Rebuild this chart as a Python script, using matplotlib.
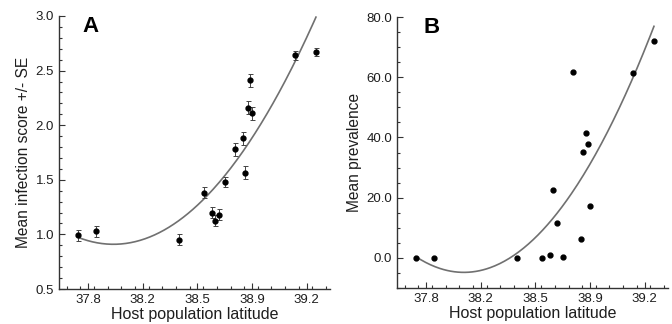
import numpy as np
import matplotlib.pyplot as plt
from matplotlib.ticker import MultipleLocator, FixedLocator, FixedFormatter

plt.rcParams['font.family'] = ['Liberation Sans', 'DejaVu Sans']

# host population latitude (same populations in both panels)
lat = [37.785, 37.90, 38.43, 38.59, 38.645, 38.665, 38.69, 38.73,
       38.79, 38.84, 38.855, 38.875, 38.89, 38.90, 39.175, 39.31]

# panel A: mean infection score +/- SE
score = [0.99, 1.03, 0.95, 1.38, 1.20, 1.125, 1.18, 1.48,
         1.78, 1.88, 1.565, 2.16, 2.41, 2.11, 2.64, 2.67]
score_se = [0.05, 0.05, 0.05, 0.05, 0.05, 0.05, 0.05, 0.05,
            0.06, 0.06, 0.06, 0.06, 0.06, 0.06, 0.04, 0.04]

# panel B: mean prevalence, in the order of lat
prev = [0.0, 0.0, 0.0, 0.0, 0.8, 22.4, 11.5, 0.2,
        61.8, 6.3, 35.1, 41.6, 37.7, 17.3, 61.5, 72.0]

xticks = [37.85, 38.2, 38.55, 38.9, 39.25]
xlabels = ['37.8', '38.2', '38.5', '38.9', '39.2']

ink = '#1e1e1e'

fig = plt.figure(figsize=(6.72, 3.24), dpi=100)
axA = fig.add_axes([59/672, 35/324, 271/672, 273/324])
axB = fig.add_axes([397/672, 36/324, 271/672, 271/324])


def style(ax):
    for s in ['top', 'right']:
        ax.spines[s].set_visible(False)
    for s in ['left', 'bottom']:
        ax.spines[s].set_color('#333333')
        ax.spines[s].set_linewidth(1.0)
    ax.set_xlim(37.663, 39.40)
    ax.xaxis.set_major_locator(FixedLocator(xticks))
    ax.xaxis.set_major_formatter(FixedFormatter(xlabels))
    ax.xaxis.set_minor_locator(MultipleLocator(0.0875))
    ax.tick_params(which='both', direction='in', colors='#333333',
                   labelcolor=ink, labelsize=9.5, width=0.8)
    ax.tick_params(which='major', length=4)
    ax.tick_params(which='minor', length=2.5)
    ax.set_xlabel('Host population latitude', fontsize=11.5, color=ink, labelpad=1)


def fit_line(x, y):
    c = np.polyfit(x, y, 2)
    xs = np.linspace(min(x), max(x), 200)
    return xs, np.polyval(c, xs)


# panel A
style(axA)
xs, ys = fit_line(lat, score)
axA.plot(xs, ys, color='#707070', lw=1.2)
axA.errorbar(lat, score, yerr=score_se, fmt='o', color='black', ms=3.5,
             ecolor='#444444', elinewidth=0.7, capsize=1.8, capthick=0.7)
axA.set_ylim(0.5, 3.0)
axA.yaxis.set_major_locator(MultipleLocator(0.5))
axA.yaxis.set_minor_locator(MultipleLocator(0.1))
axA.yaxis.set_major_formatter('{x:.1f}')
axA.set_ylabel('Mean infection score +/- SE', fontsize=11.2, color=ink, labelpad=3)
axA.text(0.088, 1.0, 'A', transform=axA.transAxes, fontsize=16,
         fontweight='bold', va='top', color='black')

# panel B
style(axB)
xs, ys = fit_line(lat, prev)
axB.plot(xs, ys, color='#707070', lw=1.2)
axB.plot(lat, prev, 'o', color='black', ms=3.5)
axB.set_ylim(-10, 80)
axB.yaxis.set_major_locator(MultipleLocator(20))
axB.yaxis.set_minor_locator(MultipleLocator(5))
axB.yaxis.set_major_formatter('{x:.1f}')
axB.set_ylabel('Mean prevalence', fontsize=11.2, color=ink, labelpad=3)
axB.text(0.098, 1.0, 'B', transform=axB.transAxes, fontsize=16,
         fontweight='bold', va='top', color='black')

fig.savefig('out.png', dpi=100)
